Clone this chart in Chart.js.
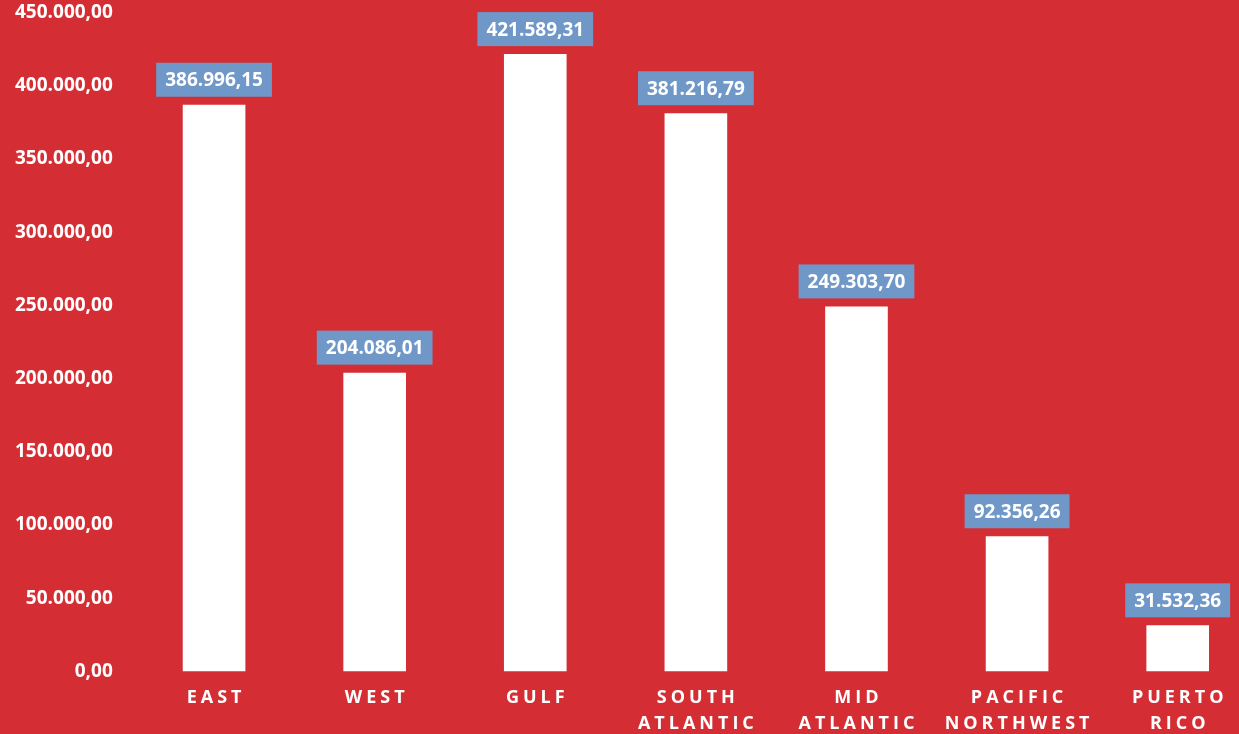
<!DOCTYPE html>
<html>
<head>
<meta charset="utf-8">
<script src="https://cdn.jsdelivr.net/npm/chart.js@4.4.1/dist/chart.umd.min.js"></script>
<style>
  html, body { margin: 0; padding: 0; background: #d42e34; overflow: hidden; }
  #wrap { width: 1258px; height: 734px; position: relative; }
</style>
</head>
<body>
<div id="wrap"><canvas id="chart"></canvas></div>
<script>
// data
const regions = [['EAST'], ['WEST'], ['GULF'], ['SOUTH', 'ATLANTIC'], ['MID', 'ATLANTIC'], ['PACIFIC', 'NORTHWEST'], ['PUERTO', 'RICO']];
const sales = [386996.15, 204086.01, 421589.31, 381216.79, 249303.70, 92356.26, 31532.36];
const yMax = 450000;
const yStep = 50000;

const fmt = v => v.toLocaleString('de-DE', { minimumFractionDigits: 2, maximumFractionDigits: 2 });
const FONT = '"Open Sans", "DejaVu Sans", sans-serif';

// blue value boxes above each bar
const valueBoxes = {
    id: 'valueBoxes',
    afterDatasetsDraw(chart) {
        const ctx = chart.ctx;
        const meta = chart.getDatasetMeta(0);
        ctx.save();
        ctx.font = 'bold 19px ' + FONT;
        ctx.textAlign = 'center';
        ctx.textBaseline = 'middle';
        meta.data.forEach((bar, i) => {
            const txt = fmt(sales[i]);
            const w = ctx.measureText(txt).width + 18;
            const h = 34;
            const bottom = bar.y - 8;
            ctx.fillStyle = '#6f98c8';
            ctx.fillRect(bar.x - w / 2, bottom - h, w, h);
            ctx.fillStyle = '#ffffff';
            ctx.fillText(txt, bar.x, bottom - h / 2 + 1);
        });
        ctx.restore();
    }
};

// spaced capital category labels (Chart.js has no letter spacing option)
const spacedLabels = {
    id: 'spacedLabels',
    afterDraw(chart) {
        const ctx = chart.ctx;
        const xs = chart.scales.x;
        const sp = 4;
        ctx.save();
        ctx.font = 'bold 18px ' + FONT;
        ctx.fillStyle = '#ffffff';
        ctx.textAlign = 'center';
        ctx.textBaseline = 'middle';
        ctx.letterSpacing = sp + 'px';
        regions.forEach((lines, i) => {
            const x = xs.getPixelForValue(i) + sp / 2;
            lines.forEach((ln, j) => {
                ctx.fillText(ln, x, 698 + j * 26);
            });
        });
        ctx.restore();
    }
};

const ctx = document.getElementById('chart').getContext('2d');
const chart = new Chart(ctx, {
    type: 'bar',
    data: {
        labels: regions.map(r => r.join(' ')),
        datasets: [{
            data: sales,
            backgroundColor: '#ffffff',
            borderWidth: 0,
            barPercentage: 0.39,
            categoryPercentage: 1
        }]
    },
    options: {
        responsive: true,
        maintainAspectRatio: false,
        animation: false,
        layout: { padding: { top: 12.5, bottom: 62.5, left: 0, right: 0 } },
        plugins: { legend: { display: false }, tooltip: { enabled: false } },
        scales: {
            x: {
                display: false
            },
            y: {
                min: 0,
                max: yMax,
                grid: { display: false, drawTicks: false },
                border: { display: false },
                ticks: {
                    stepSize: yStep,
                    color: '#ffffff',
                    padding: 21,
                    font: { family: FONT, size: 19, weight: 'bold' },
                    callback: v => fmt(v)
                },
                afterFit: s => {
                    s.width = 133.75;
                    s.paddingTop = 0;
                    s.paddingBottom = 0;
                }
            }
        }
    },
    plugins: [valueBoxes, spacedLabels]
});
</script>
</body>
</html>
